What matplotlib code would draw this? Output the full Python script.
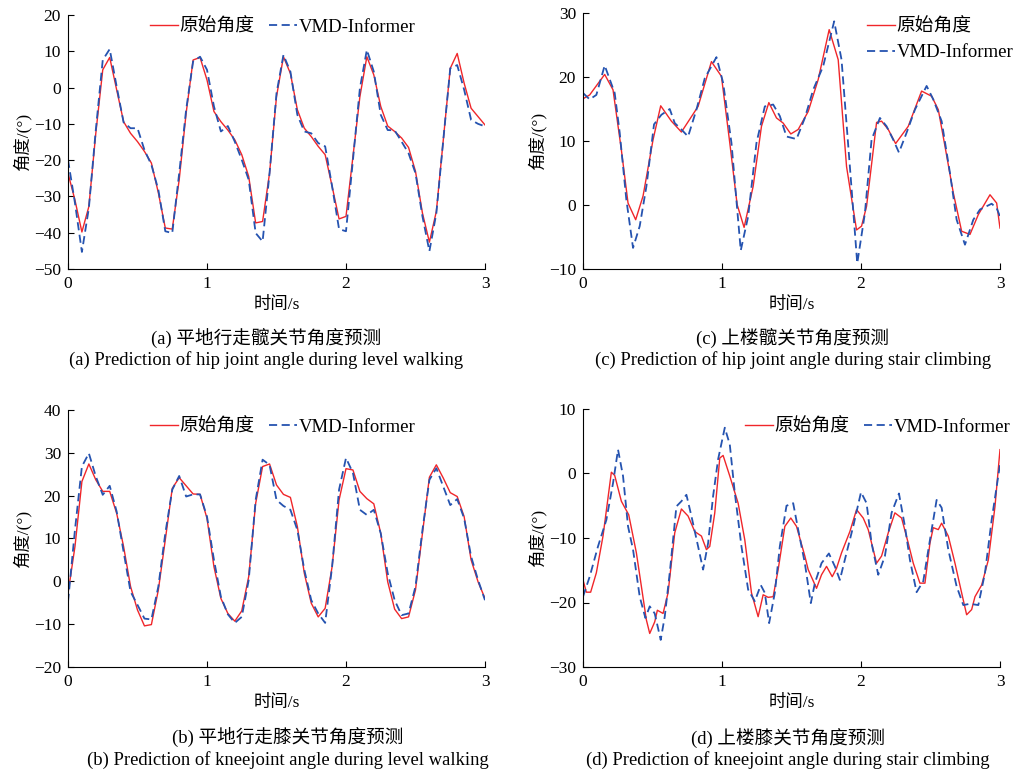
import numpy as np
import matplotlib
matplotlib.use("Agg")
import matplotlib.pyplot as plt

plt.rcParams['font.family'] = ['Liberation Serif', 'Noto Sans CJK SC']
plt.rcParams['axes.unicode_minus'] = True

# ---- (a) 平地行走髋关节 : 0.05 s 采样 ----
t_a = np.arange(61) * 0.05
hip_walk_raw = [
    -23.6, -31.0, -39.8, -32.8, -12.6, 4.9, 8.3, -0.6, -9.4, -12.6,
    -14.9, -17.6, -20.8, -29.0, -38.7, -39.0, -25.4, -7.0, 7.6, 8.3,
    2.1, -6.6, -9.4, -11.7, -14.4, -18.5, -24.5, -37.3, -36.9, -23.6,
    -2.5, 8.5, 3.9, -6.1, -11.2, -13.5, -16.2, -18.5, -27.2, -36.2,
    -35.5, -19.0, -2.5, 8.5, 3.5, -5.2, -10.6, -12.1, -13.9, -16.5,
    -23.1, -34.6, -42.6, -34.1, -14.4, 5.3, 9.4, 1.2, -5.7, -8.0, -10.3]
hip_walk_pred = [
    -19.9, -31.8, -45.3, -33.2, -11.7, 7.6, 10.6, 0.3, -9.6, -11.2,
    -11.2, -17.2, -21.3, -28.2, -39.6, -40.1, -23.6, -6.1, 7.2, 8.5,
    4.9, -5.2, -12.1, -10.6, -14.9, -19.9, -25.4, -40.1, -42.4, -23.6,
    -1.6, 9.0, 4.4, -7.5, -12.1, -12.6, -15.3, -16.2, -27.2, -39.0,
    -39.6, -19.9, -0.2, 10.4, 4.4, -7.5, -11.7, -11.8, -14.9, -18.1,
    -23.6, -35.5, -45.1, -34.6, -14.4, 5.3, 6.2, -0.6, -8.9, -10.0, -10.7]

# ---- (b) 平地行走膝关节 ----
t_b = np.arange(61) * 0.05
knee_walk_raw = [
    -2.8, 8.1, 23.3, 27.4, 23.7, 21.0, 21.0, 15.9, 8.1, -1.2,
    -6.7, -10.4, -10.1, -2.0, 9.7, 21.7, 24.2, 22.3, 20.4, 20.3,
    14.7, 3.4, -4.0, -7.5, -9.3, -6.9, 1.1, 18.2, 26.8, 27.4,
    22.5, 20.3, 19.6, 12.8, 1.9, -5.1, -8.3, -6.3, 3.4, 19.0,
    26.3, 26.0, 21.0, 19.3, 18.1, 11.2, -0.1, -6.5, -8.7, -8.3,
    -2.0, 11.2, 24.3, 27.2, 24.1, 20.7, 19.8, 15.1, 5.0, -0.1, -4.0]
knee_walk_pred = [
    -4.8, 12.0, 26.8, 29.9, 24.5, 20.2, 22.3, 16.3, 6.9, -2.4,
    -5.5, -8.7, -8.9, -1.2, 11.2, 21.4, 24.6, 19.8, 20.3, 20.3,
    15.1, 5.0, -3.6, -7.7, -9.7, -8.3, 0.3, 19.0, 28.4, 27.2,
    19.0, 17.6, 16.7, 12.0, 2.7, -4.4, -7.5, -9.7, 3.4, 21.4,
    28.8, 25.3, 16.7, 15.5, 16.7, 11.2, 1.9, -4.4, -7.9, -7.5,
    -1.2, 12.0, 23.7, 26.4, 22.1, 17.8, 19.2, 14.7, 5.8, 0.3, -4.4]

# ---- (c) 上楼髋关节 ----
t_c_raw = [0, 0.048, 0.156, 0.216, 0.276, 0.324, 0.379, 0.432, 0.504, 0.559,
           0.636, 0.708, 0.828, 0.924, 0.996, 1.056, 1.109, 1.159, 1.224, 1.284,
           1.337, 1.392, 1.44, 1.495, 1.548, 1.62, 1.692, 1.771, 1.836, 1.896,
           1.968, 2.004, 2.04, 2.112, 2.148, 2.196, 2.249, 2.34, 2.436, 2.508,
           2.556, 2.604, 2.664, 2.724, 2.784, 2.844, 2.928, 2.976, 3.0]
hip_stair_raw = [16.6, 17.2, 20.4, 18.0, 8.6, 0.3, -2.3, 1.4, 10.2, 15.5,
                 13.1, 11.4, 15.4, 22.4, 20.1, 9.7, 0.05, -3.5, 2.9, 12.3,
                 16.0, 13.6, 12.8, 11.1, 11.8, 14.6, 19.6, 27.4, 22.7, 6.0,
                 -3.9, -3.3, -0.2, 12.9, 13.1, 11.8, 9.6, 12.3, 17.8, 17.0,
                 14.9, 9.2, 1.9, -4.1, -4.6, -1.5, 1.6, 0.3, -3.6]
t_c_pred = [0, 0.048, 0.096, 0.156, 0.228, 0.264, 0.312, 0.36, 0.408, 0.456,
            0.511, 0.564, 0.624, 0.66, 0.708, 0.756, 0.816, 0.876, 0.96, 1.008,
            1.068, 1.135, 1.188, 1.248, 1.308, 1.368, 1.416, 1.464, 1.536, 1.596,
            1.656, 1.728, 1.807, 1.86, 1.92, 1.973, 2.028, 2.076, 2.136, 2.184,
            2.232, 2.273, 2.328, 2.388, 2.472, 2.52, 2.58, 2.64, 2.688, 2.748,
            2.808, 2.856, 2.94, 2.976, 3.0]
hip_stair_pred = [17.5, 16.5, 17.2, 21.8, 17.5, 11.3, 0.8, -6.7, -3.3, 2.9,
                  12.6, 14.1, 15.0, 12.8, 11.8, 10.7, 14.9, 19.8, 23.1, 19.1,
                  9.7, -7.1, -1.8, 9.7, 15.4, 15.7, 13.9, 10.7, 10.3, 13.6,
                  18.0, 21.7, 28.7, 22.7, 6.0, -9.1, -1.3, 10.2, 13.6, 12.3,
                  10.2, 8.2, 11.3, 14.9, 18.6, 16.5, 13.1, 5.0, -2.3, -6.2,
                  -2.3, -0.7, 0.2, -0.5, -1.8]

# ---- (d) 上楼膝关节 ----
t_d_raw = [0, 0.024, 0.055, 0.096, 0.144, 0.204, 0.228, 0.276, 0.329, 0.384,
           0.42, 0.456, 0.48, 0.516, 0.535, 0.576, 0.612, 0.66, 0.708, 0.756,
           0.804, 0.852, 0.888, 0.912, 0.948, 0.984, 1.008, 1.056, 1.116, 1.164,
           1.212, 1.26, 1.296, 1.332, 1.368, 1.404, 1.452, 1.495, 1.536, 1.596,
           1.62, 1.68, 1.716, 1.752, 1.793, 1.824, 1.86, 1.92, 1.968, 2.016,
           2.052, 2.112, 2.148, 2.196, 2.244, 2.292, 2.34, 2.376, 2.424, 2.46,
           2.496, 2.52, 2.556, 2.58, 2.628, 2.676, 2.724, 2.76, 2.796, 2.82,
           2.868, 2.916, 2.964, 3.0]
knee_stair_raw = [-16.5, -18.4, -18.4, -15.4, -9.7, 0.2, -0.3, -4.3, -6.4, -12.3,
                  -17.5, -22.7, -24.8, -23.0, -21.2, -21.7, -18.5, -9.2, -5.5, -6.6,
                  -9.0, -9.7, -11.8, -11.3, -6.1, 2.4, 2.8, -0.4, -4.6, -10.3,
                  -18.5, -22.2, -18.8, -19.2, -19.1, -14.9, -8.2, -6.9, -8.2, -12.8,
                  -14.9, -17.8, -15.7, -14.4, -16.0, -14.7, -12.3, -9.0, -5.6, -6.9,
                  -8.7, -13.9, -12.8, -9.2, -6.1, -6.9, -10.8, -13.9, -17.0, -17.0,
                  -10.8, -8.4, -8.7, -7.7, -9.7, -13.9, -18.5, -21.9, -21.1, -19.1,
                  -17.3, -13.4, -5.1, 3.7]
t_d_pred = [0, 0.048, 0.108, 0.168, 0.216, 0.252, 0.288, 0.324, 0.36, 0.408,
            0.449, 0.48, 0.516, 0.559, 0.588, 0.624, 0.672, 0.708, 0.744, 0.78,
            0.828, 0.864, 0.9, 0.936, 0.972, 1.02, 1.056, 1.092, 1.14, 1.188,
            1.236, 1.279, 1.308, 1.339, 1.38, 1.416, 1.464, 1.512, 1.548, 1.596,
            1.639, 1.668, 1.716, 1.769, 1.812, 1.848, 1.896, 1.944, 2.0, 2.04,
            2.076, 2.124, 2.172, 2.22, 2.273, 2.316, 2.352, 2.4, 2.448, 2.496,
            2.544, 2.58, 2.628, 2.688, 2.736, 2.784, 2.844, 2.892, 2.94, 3.0]
knee_stair_pred = [-19.1, -16.0, -11.3, -7.2, -1.5, 3.7, -0.4, -8.2, -11.8, -19.1,
                   -22.4, -20.6, -21.7, -25.8, -22.2, -15.4, -5.1, -4.3, -3.3, -6.6,
                   -11.3, -14.9, -10.8, -3.5, 2.2, 7.1, 4.5, -3.0, -11.3, -18.0,
                   -19.8, -17.3, -18.5, -23.2, -18.5, -11.3, -5.0, -4.6, -8.7, -13.9,
                   -20.1, -17.0, -13.9, -12.4, -14.4, -16.5, -12.3, -8.2, -2.9, -4.6,
                   -10.8, -15.7, -12.8, -6.1, -3.1, -8.2, -13.4, -18.4, -16.7, -10.3,
                   -4.1, -5.3, -11.8, -17.5, -20.4, -20.2, -20.4, -15.4, -7.2, 1.4]

YLIMS = {"a": (-50, 20, 10), "b": (-20, 40, 10), "c": (-10, 30, 10), "d": (-30, 10, 10)}
CAP_CN = {"a": "(a) 平地行走髋关节角度预测", "b": "(b) 平地行走膝关节角度预测",
          "c": "(c) 上楼髋关节角度预测", "d": "(d) 上楼膝关节角度预测"}
CAP_EN = {"a": "(a) Prediction of hip joint angle during level walking",
          "b": "(b) Prediction of kneejoint angle during level walking",
          "c": "(c) Prediction of hip joint angle during stair climbing",
          "d": "(d) Prediction of kneejoint angle during stair climbing"}

RED = "#f0262a"
BLUE = "#2553b0"
W, H = 1015, 773

fig = plt.figure(figsize=(W / 100, H / 100), dpi=100)

# axes boxes in pixels: left, top, right, bottom
boxes = {"a": (68, 15, 485, 269), "c": (583, 13, 1000, 269),
         "b": (68, 410, 485, 667), "d": (583, 409, 1000, 667)}
series = {
    "a": (t_a, hip_walk_raw, t_a, hip_walk_pred),
    "b": (t_b, knee_walk_raw, t_b, knee_walk_pred),
    "c": (t_c_raw, hip_stair_raw, t_c_pred, hip_stair_pred),
    "d": (t_d_raw, knee_stair_raw, t_d_pred, knee_stair_pred),
}
# legend anchors (pixels): x, y, ncol
legends = {"a": (141, 27, 2), "b": (141, 427, 2),
           "c": (858, 40, 1), "d": (736, 427, 2)}
# caption centre x and y of the two caption lines (pixels)
captions = {"a": (266, 338, 360), "b": (288, 738, 760),
            "c": (793, 338, 360), "d": (788, 738, 760)}

for key in "acbd":
    l, t, r, b = boxes[key]
    ax = fig.add_axes([l / W, 1 - b / H, (r - l) / W, (b - t) / H])
    tr, yr, tp, yp = series[key]
    ax.plot(tr, yr, color=RED, lw=1.0, label="原始角度")
    ax.plot(tp, yp, color=BLUE, lw=1.3, ls=(0, (4.5, 2.5)), label="VMD-Informer")
    lo, hi, st = YLIMS[key]
    ax.set_ylim(lo, hi)
    ax.set_yticks(np.arange(lo, hi + 1, st))
    ax.set_xlim(0, 3)
    ax.set_xticks([0, 1, 2, 3])
    for s in ("top", "right"):
        ax.spines[s].set_visible(False)
    for s in ("left", "bottom"):
        ax.spines[s].set_linewidth(0.8)
    ax.tick_params(direction="in", length=4, width=0.8, labelsize=12.5, pad=5)
    ax.set_xlabel("时间/s", fontsize=12.5, labelpad=4)
    ax.set_ylabel("角度/(°)", fontsize=12.5, labelpad=2)

    lx, ly, ncol = legends[key]
    ax.legend(loc="center left", bbox_to_anchor=(lx / W, 1 - ly / H),
              bbox_transform=fig.transFigure, ncol=ncol, frameon=False,
              fontsize=13.5, handlelength=1.45, handletextpad=0.1,
              columnspacing=0.8, borderpad=0, labelspacing=0.45)

    cx, cy1, cy2 = captions[key]
    fig.text(cx / W, 1 - cy1 / H, CAP_CN[key], ha="center", va="center", fontsize=13.4)
    fig.text(cx / W, 1 - cy2 / H, CAP_EN[key], ha="center", va="center", fontsize=13.4)

fig.savefig("out.png", dpi=100)
